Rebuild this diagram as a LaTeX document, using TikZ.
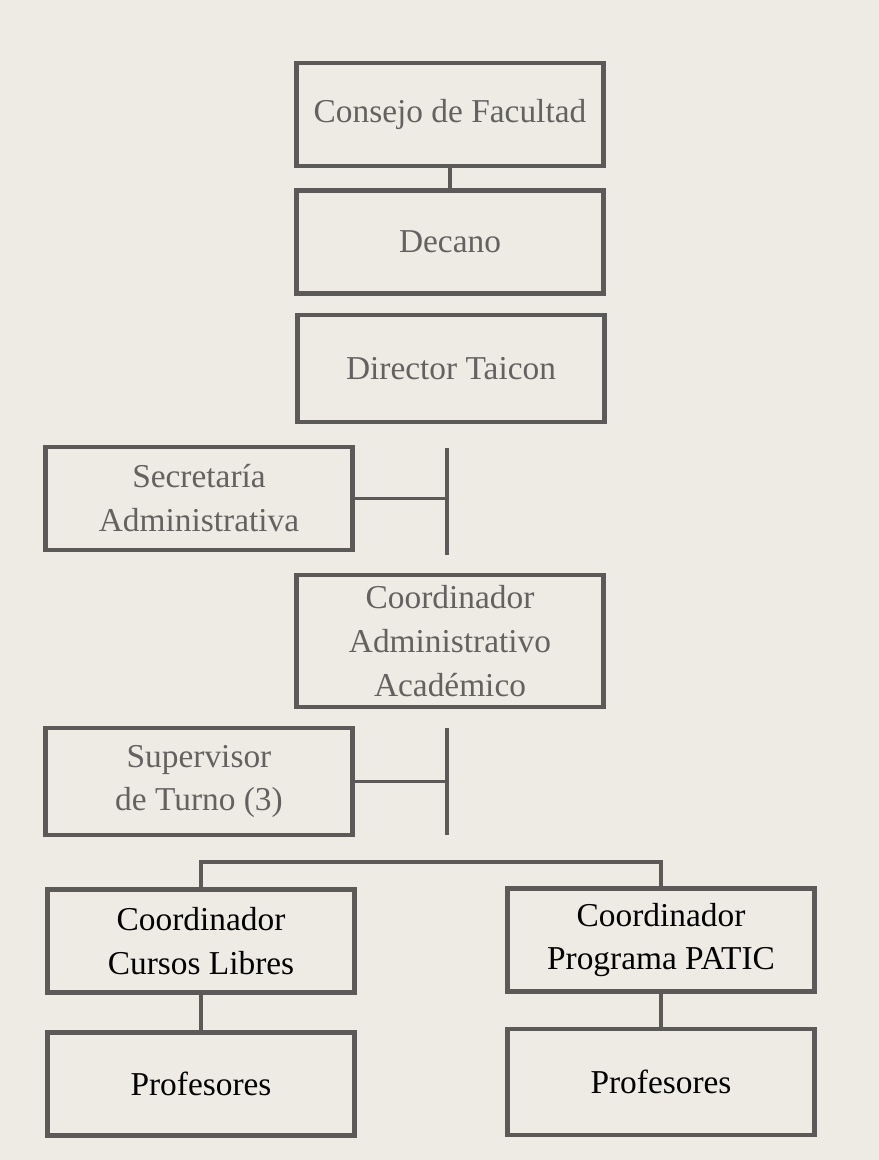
\documentclass[tikz,border=0pt]{standalone}
\usepackage{fontspec}
\setmainfont{Liberation Serif}
\usepackage{xcolor}
\usepackage{tikz}
\usetikzlibrary{positioning}

\definecolor{paper}{RGB}{238,235,229}
\definecolor{rule}{RGB}{92,90,88}
\definecolor{fadedink}{RGB}{100,98,96}

\begin{document}
\begin{tikzpicture}[
    x=0.02cm, y=-0.02cm,
    box/.style={draw=rule, line width=0.09cm, minimum width=6.14cm, minimum height=2.06cm, align=center, inner sep=0pt, font=\fontsize{19}{25}\selectfont},
    faded/.style={box, text=fadedink},
    link/.style={draw=rule, line width=0.075cm}
]
\fill[paper] (0,0) rectangle (879,1160);
\useasboundingbox (0,0) rectangle (879,1160);

\node[faded] (consejo) at (450,114.5) {Consejo de Facultad};
\node[faded] (decano) at (450,242) {Decano};
\node[faded, minimum height=2.14cm] (director) at (451,368.5) {Director Taicon};
\node[faded] (secretaria) at (199,498.5) {Secretaría\\Administrativa};
\node[faded, minimum height=2.64cm] (coordaa) at (450,641) {Coordinador\\Administrativo\\Académico};
\node[faded, minimum height=2.14cm] (supervisor) at (199,781.5) {Supervisor\\de Turno (3)};
\node[box] (cursos) at (201,941) {Coordinador\\Cursos Libres};
\node[box] (patic) at (661,940) {Coordinador\\Programa PATIC};
\node[box] (profcursos) at (201,1084) {Profesores};
\node[box, minimum height=2.12cm] (profpatic) at (661,1082) {Profesores};

\coordinate (sectop) at (447,448);
\coordinate (secbot) at (447,555);
\coordinate (suptop) at (447,728);
\coordinate (supbot) at (447,835);

\draw[link] (consejo) -- (decano);
\draw[link] (sectop) -- (secbot);
\draw[link] (secretaria.east) -- (secretaria.east -| sectop);
\draw[link] (suptop) -- (supbot);
\draw[link] (supervisor.east) -- (supervisor.east -| suptop);
\draw[link] (cursos.north) -- ++(0,-25) -| (patic.north);
\draw[link] (cursos) -- (profcursos);
\draw[link] (patic) -- (profpatic);
\end{tikzpicture}
\end{document}
